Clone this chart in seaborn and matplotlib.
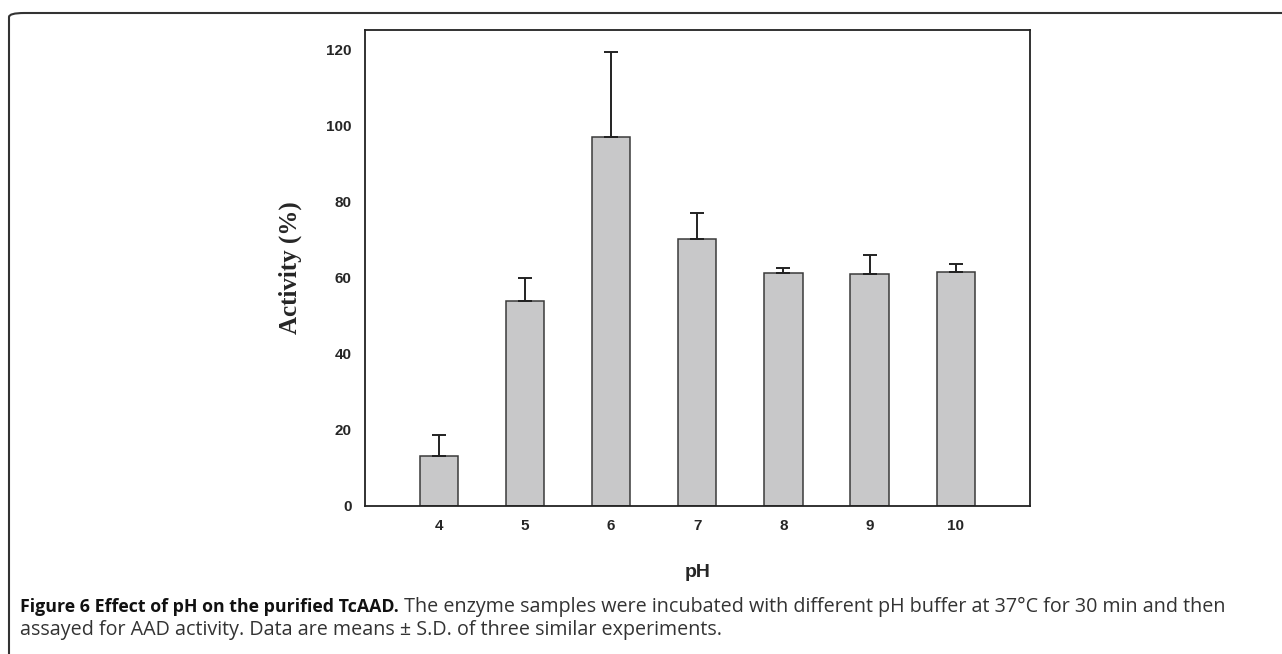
import numpy as np
import pandas as pd

import matplotlib
matplotlib.use("Agg")
import matplotlib.pyplot as plt
from matplotlib.patches import FancyBboxPatch
import seaborn as sns


# =========================
# DATA
# =========================

ph_values = ["4", "5", "6", "7", "8", "9", "10"]

activity = [13.0, 53.9, 96.8, 70.1, 61.3, 61.0, 61.4]

activity_sd = [5.6, 5.9, 22.4, 6.8, 1.3, 5.0, 2.2]

y_ticks = [0, 20, 40, 60, 80, 100, 120]

caption_bold = "Figure 6 Effect of pH on the purified TcAAD."
caption_rest_1 = (
    " The enzyme samples were incubated with different pH buffer"
    " at 37°C for 30 min and then"
)
caption_line_2 = (
    "assayed for AAD activity. Data are means ± S.D. of three"
    " similar experiments."
)

df = pd.DataFrame({"pH": ph_values, "Activity": activity})


# =========================
# FIGURE
# =========================

sns.set_style("white")

plt.rcParams["font.family"] = ["Liberation Sans", "DejaVu Sans"]

fig = plt.figure(figsize=(12.82, 6.54), dpi=100)

ax = fig.add_axes([0.2847, 0.2263, 0.5187, 0.7278])

sns.barplot(
    data=df,
    x="pH",
    y="Activity",
    color="#c8c8c9",
    edgecolor="#3a3a3a",
    linewidth=1.1,
    width=0.445,
    saturation=1,
    errorbar=None,
    ax=ax
)

ax.errorbar(
    np.arange(len(ph_values)),
    activity,
    yerr=[np.zeros(len(activity)), activity_sd],
    fmt="none",
    ecolor="#222222",
    elinewidth=1.4,
    capsize=4.7,
    capthick=1.4
)

ax.set_xlim(-0.855, 6.86)
ax.set_ylim(0, 125)
ax.set_yticks(y_ticks)

for spine in ax.spines.values():
    spine.set_visible(True)
    spine.set_color("#222222")
    spine.set_linewidth(1.3)

ax.tick_params(
    axis="both",
    direction="out",
    length=4.5,
    width=1.1,
    color="#222222",
    labelsize=11,
    pad=5
)

for label in ax.get_xticklabels() + ax.get_yticklabels():
    label.set_fontweight("bold")

ax.set_xlabel("pH", fontsize=14, fontweight="bold", labelpad=22)

ax.set_ylabel(
    "Activity (%)",
    fontsize=18,
    fontweight="bold",
    family=["Liberation Serif", "DejaVu Serif"],
    labelpad=17.5
)


# =========================
# FRAME AND CAPTION
# =========================

frame = FancyBboxPatch(
    (9 / 1282, -0.2),
    1.2,
    1.2 - 13 / 654,
    boxstyle="round,pad=0,rounding_size=0.012",
    transform=fig.transFigure,
    facecolor="none",
    edgecolor="#333333",
    linewidth=1.5,
    clip_on=False,
    mutation_aspect=654 / 1282
)
fig.patches.append(frame)

cap_font = ["Open Sans", "DejaVu Sans"]

bold_text = fig.text(
    20 / 1282,
    1 - 607 / 654,
    caption_bold,
    fontsize=12.8,
    fontweight="bold",
    family=cap_font,
    va="center",
    color="#111111"
)

fig.canvas.draw()
bbox = bold_text.get_window_extent()

fig.text(
    bbox.x1 / 1282,
    1 - 607 / 654,
    caption_rest_1,
    fontsize=14.2,
    family=cap_font,
    va="center",
    color="#333333"
)

fig.text(
    20 / 1282,
    1 - 630 / 654,
    caption_line_2,
    fontsize=14.2,
    family=cap_font,
    va="center",
    color="#333333"
)

fig.savefig("out.png", dpi=100)
